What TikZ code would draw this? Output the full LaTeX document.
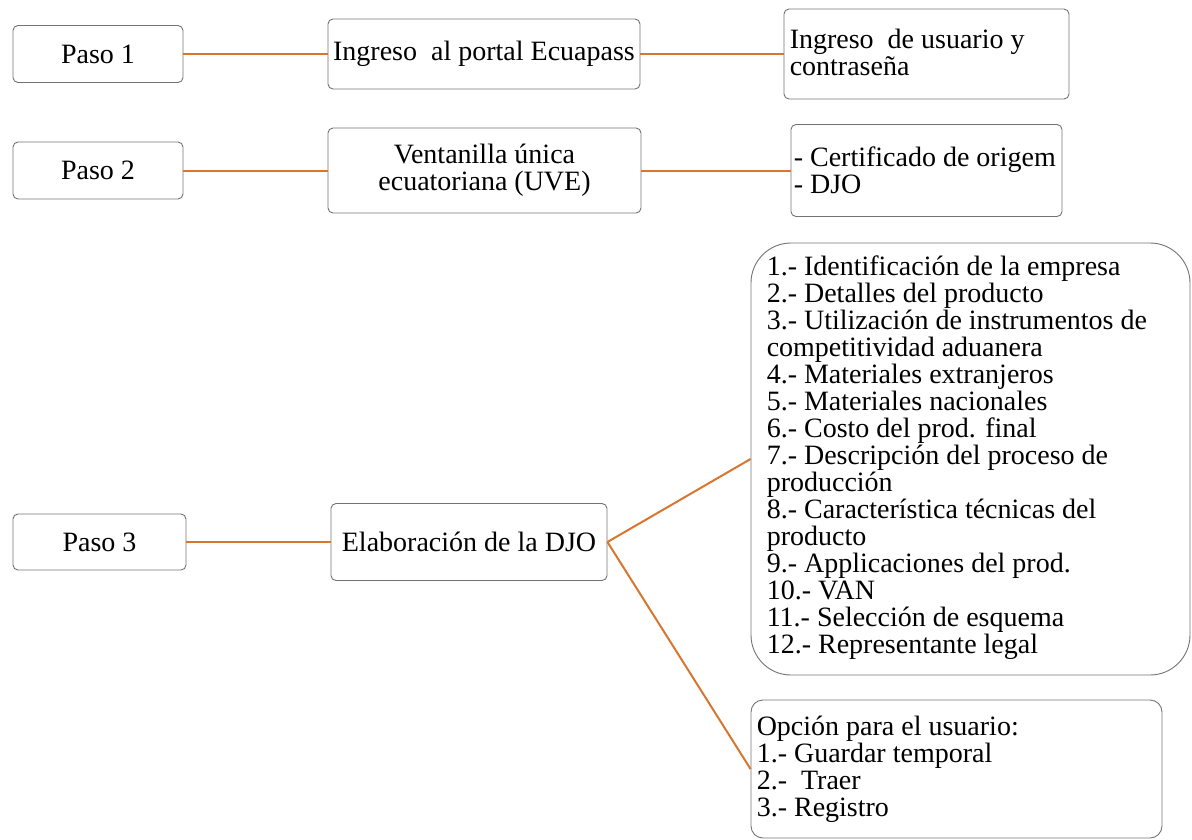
\documentclass[tikz,border=0pt]{standalone}
\usepackage{fontspec}
\setmainfont{Liberation Serif}
\begin{document}
\begin{tikzpicture}[x=1pt,y=-1pt,
  box/.style={draw=black!55, line width=0.9pt, rounded corners=5pt, inner sep=0pt,
    font=\fontsize{28}{27}\selectfont},
  txt/.style={anchor=west, inner sep=0pt, align=left, font=\fontsize{28}{27}\selectfont},
  conn/.style={draw={rgb,255:red,214;green,118;blue,48}, line width=2pt}]
\useasboundingbox (0,0) rectangle (1192,839);
% Row 1
\node[box, minimum width=170pt, minimum height=57pt] (p1) at (98,54) {Paso 1};
\node[box, minimum width=312pt, minimum height=70pt] (ing) at (484,54) {Ingreso\ \ al portal Ecuapass};
\node[box, minimum width=285pt, minimum height=90pt] (usr) at (926.5,54) {};
\node[txt] (usrt) at ([xshift=6pt,yshift=1.5pt]usr.west) {Ingreso\ \ de usuario y\\contraseña};
% Row 2
\node[box, minimum width=170pt, minimum height=57pt] (p2) at (98,170.5) {Paso 2};
\node[box, minimum width=313pt, minimum height=85pt, align=center] (uve) at (484.5,170.5) {Ventanilla única\\ecuatoriana (UVE)};
\node[box, minimum width=271pt, minimum height=92pt] (cert) at (926.5,170.5) {};
\node[txt] (certt) at ([xshift=3pt,yshift=0.5pt]cert.west) {- Certificado de origem\\- DJO};
% Row 3
\node[box, minimum width=173pt, minimum height=56pt] (p3) at (99.5,542) {Paso 3};
\node[box, minimum width=276pt, minimum height=77pt] (elab) at (469,542) {Elaboración de la DJO};
\node[box, rounded corners=40pt, minimum width=439pt, minimum height=432pt] (list) at (970.5,459) {};
\node[txt] (listt) at ([xshift=16pt,yshift=1pt]list.west) {1.- Identificación de la empresa\\2.- Detalles del producto\\3.- Utilización de instrumentos de\\competitividad aduanera\\4.- Materiales extranjeros\\5.- Materiales nacionales\\6.- Costo del prod. final\\7.- Descripción del proceso de\\producción\\8.- Característica técnicas del\\producto\\9.- Applicaciones del prod.\\10.- VAN\\11.- Selección de esquema\\12.- Representante legal};
\node[box, rounded corners=12pt, minimum width=411pt, minimum height=138pt] (opt) at (956.5,769) {};
\node[txt] (optt) at ([xshift=6pt]opt.west) {Opción para el usuario:\\1.- Guardar temporal\\2.-\ \ Traer\\3.- Registro};
% Connectors
\draw[conn] (p1.east) -- (ing.west);
\draw[conn] (ing.east) -- (usr.west);
\draw[conn] (p2.east) -- (uve.west);
\draw[conn] (uve.east) -- (cert.west);
\draw[conn] (p3.east) -- (elab.west);
\draw[conn] (elab.east) -- (list.west);
\draw[conn] (elab.east) -- (opt.west);
\end{tikzpicture}
\end{document}
